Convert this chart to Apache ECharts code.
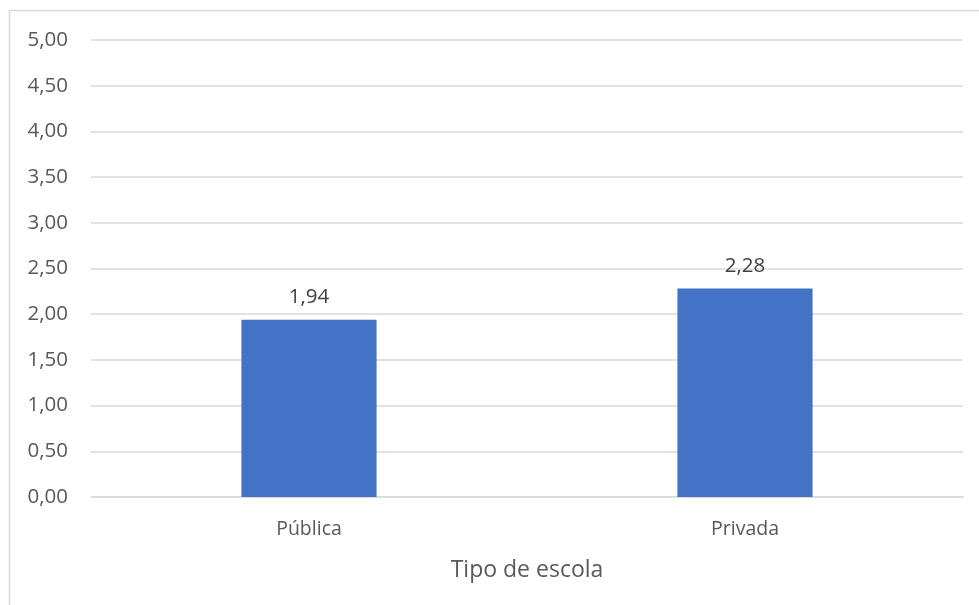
<!DOCTYPE html>
<html><head><meta charset="utf-8">
<script src="https://cdn.jsdelivr.net/npm/echarts@6/dist/echarts.min.js"></script>
<style>html,body{margin:0;padding:0;background:#fff}#c{width:979px;height:605px}</style>
</head><body><div id="c"></div>
<script>
var categories = ['Pública', 'Privada'];
var values = [1.94, 2.28];
var axisTitle = 'Tipo de escola';
var yMin = 0, yMax = 5, yStep = 0.5;

function fmt(v){ return v.toFixed(2).replace('.', ','); }
var chart = echarts.init(document.getElementById('c'));
var font = '"Open Sans", "Noto Sans", sans-serif';
chart.setOption({
  animation: false,
  textStyle: { fontFamily: font },
  graphic: [{ type: 'rect', shape: { x: 9.5, y: 10.5, width: 1000, height: 700 }, style: { fill: 'none', stroke: '#d9d9d9', lineWidth: 1.5 }, z: -1 }],
  grid: { left: 91, right: 16, top: 40, bottom: 108, containLabel: false },
  xAxis: {
    type: 'category', data: categories,
    axisLine: { show: true, lineStyle: { color: '#d9d9d9', width: 1.5 } },
    axisTick: { show: false },
    axisLabel: { color: '#595959', fontSize: 19.5, margin: 22, fontFamily: font },
    name: axisTitle, nameLocation: 'middle', nameGap: 62,
    nameTextStyle: { color: '#595959', fontSize: 23, fontFamily: font }
  },
  yAxis: {
    type: 'value', min: yMin, max: yMax, interval: yStep,
    axisLine: { show: false }, axisTick: { show: false },
    splitLine: { lineStyle: { color: '#d9d9d9', width: 1.5 } },
    axisLabel: { color: '#595959', fontSize: 20.5, margin: 23, formatter: fmt, fontFamily: font }
  },
  series: [{
    type: 'bar', data: values, barWidth: '31%',
    itemStyle: { color: '#4472c4' },
    label: { show: true, position: 'top', distance: 12, color: '#404040', fontSize: 20.5, fontFamily: font, formatter: function(p){ return fmt(p.value); } }
  }]
});
</script></body></html>
